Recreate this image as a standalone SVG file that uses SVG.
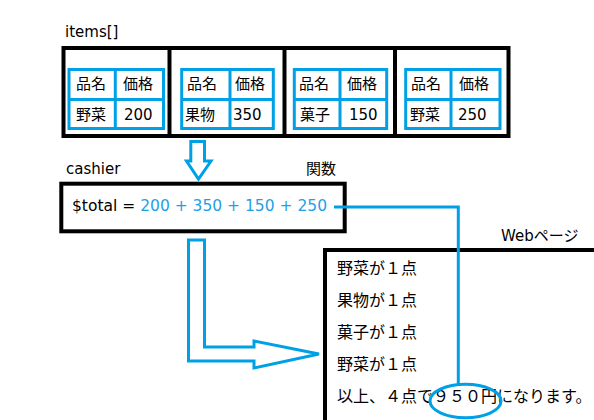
<svg xmlns="http://www.w3.org/2000/svg" width="594" height="420" viewBox="0 0 594 420">
<style>
text{font-family:"DejaVu Sans","Noto Sans CJK JP",sans-serif;fill:#000;}
.t{font-size:15px;}
.w{font-size:16px;}
.blk{fill:none;stroke:#000;stroke-width:4;}
.tbl{fill:none;stroke:#00a0e6;stroke-width:3;}
.arr{fill:none;stroke:#00a0e6;stroke-width:3;stroke-linejoin:miter;}
.bt{fill:#1ea0e6;}
</style>
<rect width="594" height="420" fill="#fff"/>

<g id="items">
<text class="t" x="65" y="37">items[]</text>
<rect class="blk" x="63.5" y="48" width="445" height="88"/>
<line class="blk" x1="169.5" y1="48" x2="169.5" y2="136"/>
<line class="blk" x1="284.5" y1="48" x2="284.5" y2="136"/>
<line class="blk" x1="395" y1="48" x2="395" y2="136"/>
</g>

<g id="item1">
<rect class="tbl" x="69" y="69.5" width="94.5" height="59"/>
<line class="tbl" x1="69" y1="99.5" x2="163.5" y2="99.5"/>
<line class="tbl" x1="115.3" y1="69.5" x2="115.3" y2="128.5"/>
<text class="t" x="76" y="89">品名</text>
<text class="t" x="123" y="89">価格</text>
<text class="t" x="76" y="120">野菜</text>
<text class="t" x="124" y="120">200</text>
</g>

<g id="item2">
<rect class="tbl" x="181.7" y="69.5" width="91.6" height="59"/>
<line class="tbl" x1="181.7" y1="99.5" x2="273.3" y2="99.5"/>
<line class="tbl" x1="230" y1="69.5" x2="230" y2="128.5"/>
<text class="t" x="187" y="89">品名</text>
<text class="t" x="235" y="89">価格</text>
<text class="t" x="185" y="120">果物</text>
<text class="t" x="233" y="120">350</text>
</g>

<g id="item3">
<rect class="tbl" x="294.3" y="69.5" width="92.4" height="59"/>
<line class="tbl" x1="294.3" y1="99.5" x2="386.7" y2="99.5"/>
<line class="tbl" x1="340" y1="69.5" x2="340" y2="128.5"/>
<text class="t" x="299" y="89">品名</text>
<text class="t" x="347" y="89">価格</text>
<text class="t" x="300" y="120">菓子</text>
<text class="t" x="349" y="120">150</text>
</g>

<g id="item4">
<rect class="tbl" x="405.7" y="69.5" width="94.3" height="59"/>
<line class="tbl" x1="405.7" y1="99.5" x2="500" y2="99.5"/>
<line class="tbl" x1="451" y1="69.5" x2="451" y2="128.5"/>
<text class="t" x="411" y="89">品名</text>
<text class="t" x="459" y="89">価格</text>
<text class="t" x="410" y="120">野菜</text>
<text class="t" x="458" y="120">250</text>
</g>

<g id="cashier">
<text class="t" x="66" y="174">cashier</text>
<text class="t" x="306" y="174">関数</text>
<rect class="blk" x="61.3" y="183.7" width="283.4" height="47.6"/>
<text style="font-size:15.5px" x="72" y="211">$total = <tspan class="bt">200 + 350 + 150 + 250</tspan></text>
</g>

<g id="webpage">
<text class="t" x="501" y="241">Webページ</text>
<path class="blk" d="M325,420 V250 H594"/>
<text class="w" x="337" y="274">野菜が１点</text>
<text class="w" x="337" y="306">果物が１点</text>
<text class="w" x="337" y="338">菓子が１点</text>
<text class="w" x="337" y="370">野菜が１点</text>
<text class="w" x="337" y="402">以上、４点で９５０円になります。</text>
</g>

<g id="connectors">
<path class="arr" d="M190.8,141.5 H204.5 V161 H211 L198.5,179 L186.5,161 H190.8 Z"/>
<path class="arr" d="M188.5,240 H204.5 V347 H254 V341 L319,354 L254,368 V361 H188.5 Z"/>
<path class="arr" d="M334,207 H458.3 V384.3"/>
<ellipse class="arr" cx="465.5" cy="401" rx="35.5" ry="16.7"/>
</g>
</svg>
